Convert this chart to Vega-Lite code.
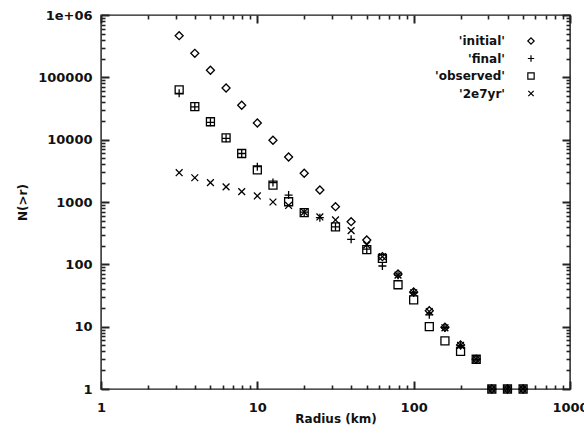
{
  "$schema": "https://vega.github.io/schema/vega-lite/v6.json",
  "width": 469,
  "height": 374,
  "autosize": "none",
  "padding": {"left": 101, "top": 15, "right": 14, "bottom": 44},
  "background": "white",
  "config": {
    "view": {"stroke": "#1a1a1a", "strokeWidth": 1.4},
    "font": "DejaVu Sans",
    "axis": {
      "grid": false,
      "domain": false,
      "labelFont": "DejaVu Sans",
      "labelFontWeight": "bold",
      "labelFontSize": 13,
      "labelColor": "#111",
      "titleFont": "DejaVu Sans",
      "titleFontWeight": "bold",
      "titleFontSize": 12,
      "titleColor": "#111",
      "labelFlush": false,
      "labelOverlap": false
    }
  },
  "data": {
    "values": [
      {"r": 3.162, "N": 466000, "series": "'initial'"},
      {"r": 3.981, "N": 243000, "series": "'initial'"},
      {"r": 5.012, "N": 130000, "series": "'initial'"},
      {"r": 6.310, "N": 67500, "series": "'initial'"},
      {"r": 7.943, "N": 35600, "series": "'initial'"},
      {"r": 10.0, "N": 18500, "series": "'initial'"},
      {"r": 12.59, "N": 9800, "series": "'initial'"},
      {"r": 15.85, "N": 5270, "series": "'initial'"},
      {"r": 19.95, "N": 2890, "series": "'initial'"},
      {"r": 25.12, "N": 1560, "series": "'initial'"},
      {"r": 31.62, "N": 841, "series": "'initial'"},
      {"r": 39.81, "N": 483, "series": "'initial'"},
      {"r": 50.12, "N": 246, "series": "'initial'"},
      {"r": 63.10, "N": 133, "series": "'initial'"},
      {"r": 79.43, "N": 70, "series": "'initial'"},
      {"r": 100.0, "N": 36, "series": "'initial'"},
      {"r": 125.9, "N": 18, "series": "'initial'"},
      {"r": 158.5, "N": 9.8, "series": "'initial'"},
      {"r": 199.5, "N": 5.1, "series": "'initial'"},
      {"r": 251.2, "N": 3, "series": "'initial'"},
      {"r": 316.2, "N": 1, "series": "'initial'"},
      {"r": 398.1, "N": 1, "series": "'initial'"},
      {"r": 501.2, "N": 1, "series": "'initial'"},

      {"r": 3.162, "N": 55400, "series": "'final'"},
      {"r": 3.981, "N": 33500, "series": "'final'"},
      {"r": 5.012, "N": 19000, "series": "'final'"},
      {"r": 6.310, "N": 10500, "series": "'final'"},
      {"r": 7.943, "N": 6000, "series": "'final'"},
      {"r": 10.0, "N": 3690, "series": "'final'"},
      {"r": 12.59, "N": 2050, "series": "'final'"},
      {"r": 15.85, "N": 1290, "series": "'final'"},
      {"r": 19.95, "N": 690, "series": "'final'"},
      {"r": 25.12, "N": 560, "series": "'final'"},
      {"r": 31.62, "N": 400, "series": "'final'"},
      {"r": 39.81, "N": 252, "series": "'final'"},
      {"r": 50.12, "N": 175, "series": "'final'"},
      {"r": 63.10, "N": 94, "series": "'final'"},
      {"r": 79.43, "N": 67, "series": "'final'"},
      {"r": 100.0, "N": 35, "series": "'final'"},
      {"r": 125.9, "N": 15.5, "series": "'final'"},
      {"r": 158.5, "N": 9.6, "series": "'final'"},
      {"r": 199.5, "N": 5, "series": "'final'"},
      {"r": 251.2, "N": 3, "series": "'final'"},
      {"r": 316.2, "N": 1, "series": "'final'"},
      {"r": 398.1, "N": 1, "series": "'final'"},
      {"r": 501.2, "N": 1, "series": "'final'"},

      {"r": 3.162, "N": 63000, "series": "'observed'"},
      {"r": 3.981, "N": 33800, "series": "'observed'"},
      {"r": 5.012, "N": 19400, "series": "'observed'"},
      {"r": 6.310, "N": 10700, "series": "'observed'"},
      {"r": 7.943, "N": 6000, "series": "'observed'"},
      {"r": 10.0, "N": 3270, "series": "'observed'"},
      {"r": 12.59, "N": 1870, "series": "'observed'"},
      {"r": 15.85, "N": 1010, "series": "'observed'"},
      {"r": 19.95, "N": 675, "series": "'observed'"},
      {"r": 31.62, "N": 400, "series": "'observed'"},
      {"r": 50.12, "N": 172, "series": "'observed'"},
      {"r": 63.10, "N": 125, "series": "'observed'"},
      {"r": 79.43, "N": 47, "series": "'observed'"},
      {"r": 100.0, "N": 27, "series": "'observed'"},
      {"r": 125.9, "N": 10, "series": "'observed'"},
      {"r": 158.5, "N": 5.9, "series": "'observed'"},
      {"r": 199.5, "N": 4, "series": "'observed'"},
      {"r": 251.2, "N": 3, "series": "'observed'"},
      {"r": 316.2, "N": 1, "series": "'observed'"},
      {"r": 398.1, "N": 1, "series": "'observed'"},
      {"r": 501.2, "N": 1, "series": "'observed'"},

      {"r": 3.162, "N": 2950, "series": "'2e7yr'"},
      {"r": 3.981, "N": 2450, "series": "'2e7yr'"},
      {"r": 5.012, "N": 2050, "series": "'2e7yr'"},
      {"r": 6.310, "N": 1750, "series": "'2e7yr'"},
      {"r": 7.943, "N": 1465, "series": "'2e7yr'"},
      {"r": 10.0, "N": 1250, "series": "'2e7yr'"},
      {"r": 12.59, "N": 1000, "series": "'2e7yr'"},
      {"r": 15.85, "N": 880, "series": "'2e7yr'"},
      {"r": 19.95, "N": 690, "series": "'2e7yr'"},
      {"r": 25.12, "N": 575, "series": "'2e7yr'"},
      {"r": 31.62, "N": 515, "series": "'2e7yr'"},
      {"r": 39.81, "N": 347, "series": "'2e7yr'"},
      {"r": 50.12, "N": 205, "series": "'2e7yr'"},
      {"r": 63.10, "N": 133, "series": "'2e7yr'"},
      {"r": 79.43, "N": 67, "series": "'2e7yr'"},
      {"r": 100.0, "N": 35, "series": "'2e7yr'"},
      {"r": 125.9, "N": 17.5, "series": "'2e7yr'"},
      {"r": 158.5, "N": 9.6, "series": "'2e7yr'"},
      {"r": 199.5, "N": 5, "series": "'2e7yr'"},
      {"r": 251.2, "N": 3, "series": "'2e7yr'"},
      {"r": 316.2, "N": 1, "series": "'2e7yr'"},
      {"r": 398.1, "N": 1, "series": "'2e7yr'"},
      {"r": 501.2, "N": 1, "series": "'2e7yr'"}
    ]
  },
  "layer": [
    {
      "mark": {"type": "point", "filled": false, "color": "black", "size": 64, "strokeWidth": 1.3, "opacity": 1},
      "encoding": {
        "x": {
          "field": "r", "type": "quantitative",
          "scale": {"type": "log", "domain": [1, 1000]},
          "axis": {
            "orient": "bottom",
            "offset": -8,
            "values": [1, 10, 100, 1000],
            "tickSize": 8,
            "tickColor": "#222222",
            "tickWidth": 2,
            "labelExpr": "datum.value == 1 ? '1' : datum.value == 10 ? '10' : datum.value == 100 ? '100' : '1000'",
            "labelPadding": 12,
            "title": "Radius (km)",
            "titlePadding": -1
          }
        },
        "y": {
          "field": "N", "type": "quantitative",
          "scale": {"type": "log", "domain": [1, 1000000]},
          "axis": {
            "orient": "left",
            "offset": -8,
            "values": [1, 10, 100, 1000, 10000, 100000, 1000000],
            "tickSize": 8,
            "tickColor": "#222222",
            "tickWidth": 2,
            "labelExpr": "datum.value == 1000000 ? '1e+06' : format(datum.value, 'd')",
            "labelPadding": 9,
            "title": "N(>r)",
            "titlePadding": 8
          }
        },
        "shape": {
          "field": "series", "type": "nominal",
          "scale": {
            "domain": ["'initial'", "'final'", "'observed'", "'2e7yr'"],
            "range": ["diamond", "M-1,0L1,0M0,-1L0,1", "square", "M-0.85,-0.85L0.85,0.85M-0.85,0.85L0.85,-0.85"]
          },
          "legend": {
            "title": null,
            "orient": "none",
            "legendX": 424,
            "legendY": 20,
            "padding": 0,
            "labelAlign": "right",
            "labelOffset": -32,
            "labelFont": "DejaVu Sans",
            "labelFontWeight": "bold",
            "labelFontSize": 12,
            "labelColor": "#111",
            "symbolSize": 40,
            "symbolStrokeWidth": 1.2,
            "symbolStrokeColor": "black",
            "symbolFillColor": "transparent",
            "rowPadding": 5.5
          }
        }
      }
    },
    {
      "mark": {"type": "point", "opacity": 0},
      "encoding": {
        "x": {
          "field": "r", "type": "quantitative",
          "scale": {"type": "log", "domain": [1, 1000]},
          "axis": {
            "orient": "bottom",
            "offset": -4,
            "values": [2,3,4,5,6,7,8,9,20,30,40,50,60,70,80,90,200,300,400,500,600,700,800,900],
            "tickSize": 4,
            "tickColor": "#222222",
            "tickWidth": 1.6,
            "labels": false,
            "title": null
          }
        },
        "y": {
          "field": "N", "type": "quantitative",
          "scale": {"type": "log", "domain": [1, 1000000]},
          "axis": {
            "orient": "left",
            "offset": -4,
            "values": [2,3,4,5,6,7,8,9,20,30,40,50,60,70,80,90,200,300,400,500,600,700,800,900,2000,3000,4000,5000,6000,7000,8000,9000,20000,30000,40000,50000,60000,70000,80000,90000,200000,300000,400000,500000,600000,700000,800000,900000],
            "tickSize": 4,
            "tickColor": "#222222",
            "tickWidth": 1.6,
            "labels": false,
            "title": null
          }
        }
      }
    },
    {
      "mark": {"type": "point", "opacity": 0},
      "encoding": {
        "x": {
          "field": "r", "type": "quantitative",
          "scale": {"type": "log", "domain": [1, 1000]},
          "axis": {
            "orient": "top",
            "offset": -8,
            "values": [1, 10, 100, 1000],
            "tickSize": 8,
            "tickColor": "#222222",
            "tickWidth": 2,
            "labels": false,
            "title": null
          }
        },
        "y": {
          "field": "N", "type": "quantitative",
          "scale": {"type": "log", "domain": [1, 1000000]},
          "axis": {
            "orient": "right",
            "offset": -8,
            "values": [1, 10, 100, 1000, 10000, 100000, 1000000],
            "tickSize": 8,
            "tickColor": "#222222",
            "tickWidth": 2,
            "labels": false,
            "title": null
          }
        }
      }
    },
    {
      "mark": {"type": "point", "opacity": 0},
      "encoding": {
        "x": {
          "field": "r", "type": "quantitative",
          "scale": {"type": "log", "domain": [1, 1000]},
          "axis": {
            "orient": "top",
            "offset": -4,
            "values": [2,3,4,5,6,7,8,9,20,30,40,50,60,70,80,90,200,300,400,500,600,700,800,900],
            "tickSize": 4,
            "tickColor": "#222222",
            "tickWidth": 1.6,
            "labels": false,
            "title": null
          }
        },
        "y": {
          "field": "N", "type": "quantitative",
          "scale": {"type": "log", "domain": [1, 1000000]},
          "axis": {
            "orient": "right",
            "offset": -4,
            "values": [2,3,4,5,6,7,8,9,20,30,40,50,60,70,80,90,200,300,400,500,600,700,800,900,2000,3000,4000,5000,6000,7000,8000,9000,20000,30000,40000,50000,60000,70000,80000,90000,200000,300000,400000,500000,600000,700000,800000,900000],
            "tickSize": 4,
            "tickColor": "#222222",
            "tickWidth": 1.6,
            "labels": false,
            "title": null
          }
        }
      }
    }
  ],
  "resolve": {"axis": {"x": "independent", "y": "independent"}}
}
